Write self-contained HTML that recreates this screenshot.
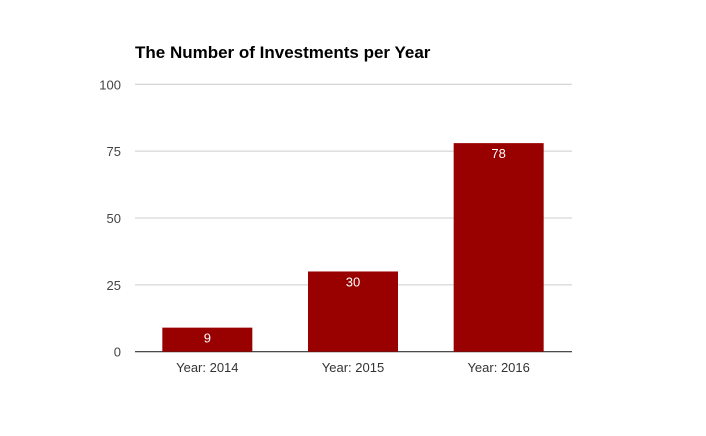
<!DOCTYPE html>
<html><head><meta charset="utf-8"><style>
body{margin:0;background:#fff;}
svg{display:block;font-family:"Liberation Sans",Arial,sans-serif;}
</style></head><body>
<svg id="chart" width="706" height="436">
<text x="135" y="58" font-size="17" font-weight="bold" fill="#000">The Number of Investments per Year</text>
<g id="grid"></g><g id="bars"></g>
</svg>
<script>
const categories = ["Year: 2014", "Year: 2015", "Year: 2016"];
const values = [9, 30, 78];
const ticks = [0, 25, 50, 75, 100];
const ns = "http://www.w3.org/2000/svg";
const x0 = 135, x1 = 572, yBase = 351.7, yTop = 84.3;
function y(v){ return yBase - (v/100)*(yBase - yTop); }
const band = (x1 - x0) / categories.length;
function xc(i){ return x0 + band*(i+0.5) - 0.5; }
const barW = 90;
const grid = document.getElementById('grid');
ticks.forEach(t => {
  const l = document.createElementNS(ns,'line');
  
  
  l.setAttribute('x1', x0); l.setAttribute('x2', x1);
  l.setAttribute('y1', y(t)); l.setAttribute('y2', y(t));
  l.setAttribute('stroke', t===0 ? '#333' : '#ccc');
  l.setAttribute('stroke-width', t===0 ? 1.2 : 1);
  grid.appendChild(l);
  const tx = document.createElementNS(ns,'text');
  
  
  tx.setAttribute('x', 121); tx.setAttribute('y', y(t)+5);
  tx.setAttribute('text-anchor','end'); tx.setAttribute('font-size','13'); tx.setAttribute('fill','#444');
  tx.textContent = t; grid.appendChild(tx);
});
const bars = document.getElementById('bars');
categories.forEach((c,i) => {
  const r = document.createElementNS(ns,'rect');
  
  
  r.setAttribute('x', xc(i)-barW/2); r.setAttribute('width', barW);
  r.setAttribute('y', y(values[i])); r.setAttribute('height', yBase - y(values[i]));
  r.setAttribute('fill', '#990000');
  bars.appendChild(r);
  const v = document.createElementNS(ns,'text');
  
  
  v.setAttribute('x', xc(i)); v.setAttribute('y', y(values[i])+15);
  v.setAttribute('text-anchor','middle'); v.setAttribute('font-size','13'); v.setAttribute('fill','#fff');
  v.textContent = values[i]; bars.appendChild(v);
  const cl = document.createElementNS(ns,'text');
  
  
  cl.setAttribute('x', xc(i)); cl.setAttribute('y', 372);
  cl.setAttribute('text-anchor','middle'); cl.setAttribute('font-size','13'); cl.setAttribute('fill','#333');
  cl.textContent = c; bars.appendChild(cl);
});
</script>
</body></html>
